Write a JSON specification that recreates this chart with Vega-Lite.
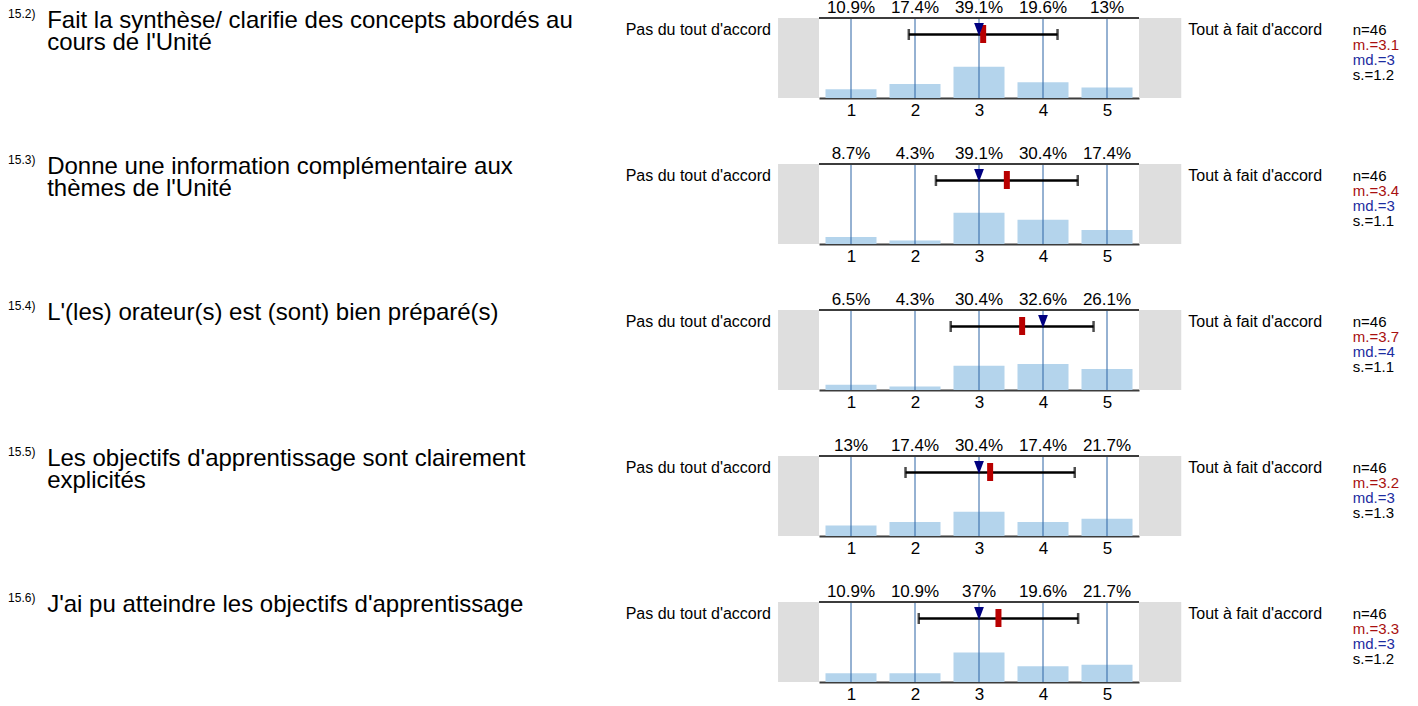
{
  "$schema": "https://vega.github.io/schema/vega-lite/v6.json",
  "background": "white",
  "padding": {"left": 8, "top": -1, "right": 5, "bottom": 4},
  "config": {
    "view": {"stroke": null},
    "font": "Liberation Sans",
    "text": {"font": "Liberation Sans"},
    "scale": {"continuousPadding": 0}
  },
  "datasets": {
    "dist": [
      {"q": "15.2", "value": 1, "pct": 0.109}, {"q": "15.2", "value": 2, "pct": 0.174}, {"q": "15.2", "value": 3, "pct": 0.391}, {"q": "15.2", "value": 4, "pct": 0.196}, {"q": "15.2", "value": 5, "pct": 0.13},
      {"q": "15.3", "value": 1, "pct": 0.087}, {"q": "15.3", "value": 2, "pct": 0.043}, {"q": "15.3", "value": 3, "pct": 0.391}, {"q": "15.3", "value": 4, "pct": 0.304}, {"q": "15.3", "value": 5, "pct": 0.174},
      {"q": "15.4", "value": 1, "pct": 0.065}, {"q": "15.4", "value": 2, "pct": 0.043}, {"q": "15.4", "value": 3, "pct": 0.304}, {"q": "15.4", "value": 4, "pct": 0.326}, {"q": "15.4", "value": 5, "pct": 0.261},
      {"q": "15.5", "value": 1, "pct": 0.13}, {"q": "15.5", "value": 2, "pct": 0.174}, {"q": "15.5", "value": 3, "pct": 0.304}, {"q": "15.5", "value": 4, "pct": 0.174}, {"q": "15.5", "value": 5, "pct": 0.217},
      {"q": "15.6", "value": 1, "pct": 0.109}, {"q": "15.6", "value": 2, "pct": 0.109}, {"q": "15.6", "value": 3, "pct": 0.37}, {"q": "15.6", "value": 4, "pct": 0.196}, {"q": "15.6", "value": 5, "pct": 0.217}
    ],
    "stats": [
      {"q": "15.2", "sup": "15.2)", "question": "Fait la synthèse/ clarifie des concepts abordés au\ncours de l'Unité", "n": 46, "mean": 3.065, "median": 3, "sd": 1.162},
      {"q": "15.3", "sup": "15.3)", "question": "Donne une information complémentaire aux\nthèmes de l'Unité", "n": 46, "mean": 3.435, "median": 3, "sd": 1.108},
      {"q": "15.4", "sup": "15.4)", "question": "L'(les) orateur(s) est (sont) bien préparé(s)", "n": 46, "mean": 3.674, "median": 4, "sd": 1.116},
      {"q": "15.5", "sup": "15.5)", "question": "Les objectifs d'apprentissage sont clairement\nexplicités", "n": 46, "mean": 3.174, "median": 3, "sd": 1.322},
      {"q": "15.6", "sup": "15.6)", "question": "J'ai pu atteindre les objectifs d'apprentissage", "n": 46, "mean": 3.304, "median": 3, "sd": 1.245}
    ]
  },
  "data": {"name": "dist"},
  "transform": [
    {"lookup": "q", "from": {"data": {"name": "stats"}, "key": "q", "fields": ["sup", "question", "n", "mean", "median", "sd"]}}
  ],
  "facet": {"row": {"field": "q", "type": "nominal", "header": null}},
  "spacing": {"row": 66},
  "bounds": "flush",
  "resolve": {"axis": {"x": "independent"}},
  "spec": {
    "width": 320,
    "height": 80,
    "layer": [
      {
        "transform": [{"filter": "datum.value == 1"}],
        "mark": {"type": "rect", "color": "#dedede", "clip": false},
        "encoding": {
          "x": {"datum": -0.14, "type": "quantitative", "scale": {"domain": [0.5, 5.5], "nice": false, "zero": false, "padding": 0}, "title": null},
          "x2": {"datum": 0.5},
          "y": {"datum": 0, "type": "quantitative", "scale": {"domain": [0, 1]}, "axis": null},
          "y2": {"datum": 1}
        }
      },
      {
        "transform": [{"filter": "datum.value == 1"}],
        "mark": {"type": "rect", "color": "#dedede", "clip": false},
        "encoding": {
          "x": {"datum": 5.5, "type": "quantitative", "scale": {"domain": [0.5, 5.5], "nice": false, "zero": false, "padding": 0}, "title": null},
          "x2": {"datum": 6.16},
          "y": {"datum": 0, "type": "quantitative", "scale": {"domain": [0, 1]}, "axis": null},
          "y2": {"datum": 1}
        }
      },
      {
        "mark": {"type": "bar", "color": "#b4d4ec", "width": 51, "clip": false},
        "encoding": {
          "x": {"field": "value", "type": "quantitative", "scale": {"domain": [0.5, 5.5], "nice": false, "zero": false, "padding": 0}, "title": null,
            "axis": {"values": [1, 2, 3, 4, 5], "format": "d", "grid": false, "ticks": false, "tickSize": 0, "domainColor": "#3c3c3c", "domainWidth": 2, "labelFontSize": 17, "labelColor": "black", "labelFont": "Liberation Sans", "labelPadding": 17, "labelBaseline": "alphabetic", "title": null}},
          "y": {"field": "pct", "type": "quantitative", "scale": {"domain": [0, 1]}, "axis": null}
        }
      },
      {
        "mark": {"type": "rule", "color": "#2c65a5", "strokeWidth": 1},
        "encoding": {
          "x": {"field": "value", "type": "quantitative", "scale": {"domain": [0.5, 5.5], "nice": false, "zero": false, "padding": 0}, "title": null},
          "y": {"datum": 0, "type": "quantitative", "scale": {"domain": [0, 1]}, "axis": null},
          "y2": {"datum": 1}
        }
      },
      {
        "transform": [{"filter": "datum.value == 1"}],
        "mark": {"type": "rule", "color": "#3c3c3c", "strokeWidth": 2},
        "encoding": {
          "x": {"datum": 0.5, "type": "quantitative", "scale": {"domain": [0.5, 5.5], "nice": false, "zero": false, "padding": 0}, "title": null},
          "x2": {"datum": 5.5},
          "y": {"datum": 1, "type": "quantitative", "scale": {"domain": [0, 1]}, "axis": null}
        }
      },
      {
        "transform": [{"filter": "datum.value == 1"}],
        "mark": {"type": "errorbar", "color": "black", "ticks": true, "size": 11, "thickness": 2.5, "clip": false},
        "encoding": {
          "x": {"field": "mean", "type": "quantitative", "scale": {"domain": [0.5, 5.5], "nice": false, "zero": false, "padding": 0}, "title": null},
          "xError": {"field": "sd"},
          "y": {"datum": 0.794, "type": "quantitative", "scale": {"domain": [0, 1]}, "axis": null}
        }
      },
      {
        "transform": [{"filter": "datum.value == 1"}],
        "mark": {"type": "tick", "color": "#b80000", "orient": "vertical", "size": 18, "thickness": 6, "opacity": 1},
        "encoding": {
          "x": {"field": "mean", "type": "quantitative", "scale": {"domain": [0.5, 5.5], "nice": false, "zero": false, "padding": 0}, "title": null},
          "y": {"datum": 0.8, "type": "quantitative", "scale": {"domain": [0, 1]}, "axis": null}
        }
      },
      {
        "transform": [{"filter": "datum.value == 1"}],
        "mark": {"type": "point", "shape": "M-0.75,-1L0.75,-1L0,1Z", "filled": true, "color": "#000080", "size": 169, "opacity": 1},
        "encoding": {
          "x": {"field": "median", "type": "quantitative", "scale": {"domain": [0.5, 5.5], "nice": false, "zero": false, "padding": 0}, "title": null},
          "y": {"datum": 0.856, "type": "quantitative", "scale": {"domain": [0, 1]}, "axis": null}
        }
      },
      {
        "mark": {"type": "text", "fontSize": 17, "color": "black", "baseline": "alphabetic", "dy": -5},
        "encoding": {
          "x": {"field": "value", "type": "quantitative", "scale": {"domain": [0.5, 5.5], "nice": false, "zero": false, "padding": 0}, "title": null},
          "y": {"datum": 1, "type": "quantitative", "scale": {"domain": [0, 1]}, "axis": null},
          "text": {"field": "pct", "type": "quantitative", "format": ".1~%"}
        }
      },
      {
        "transform": [{"filter": "datum.value == 1"}],
        "mark": {"type": "text", "fontSize": 16, "color": "black", "align": "right", "baseline": "alphabetic", "text": "Pas du tout d'accord"},
        "encoding": {
          "x": {"datum": -0.25, "type": "quantitative", "scale": {"domain": [0.5, 5.5], "nice": false, "zero": false, "padding": 0}, "title": null},
          "y": {"datum": 0.7875, "type": "quantitative", "scale": {"domain": [0, 1]}, "axis": null}
        }
      },
      {
        "transform": [{"filter": "datum.value == 1"}],
        "mark": {"type": "text", "fontSize": 16, "color": "black", "align": "left", "baseline": "alphabetic", "text": "Tout à fait d'accord"},
        "encoding": {
          "x": {"datum": 6.27, "type": "quantitative", "scale": {"domain": [0.5, 5.5], "nice": false, "zero": false, "padding": 0}, "title": null},
          "y": {"datum": 0.7875, "type": "quantitative", "scale": {"domain": [0, 1]}, "axis": null}
        }
      },
      {
        "transform": [{"filter": "datum.value == 1"}, {"calculate": "'n=' + datum.n", "as": "lbl"}],
        "mark": {"type": "text", "fontSize": 15, "color": "black", "align": "left", "baseline": "alphabetic"},
        "encoding": {
          "x": {"datum": 8.84, "type": "quantitative", "scale": {"domain": [0.5, 5.5], "nice": false, "zero": false, "padding": 0}, "title": null},
          "y": {"datum": 0.7875, "type": "quantitative", "scale": {"domain": [0, 1]}, "axis": null},
          "text": {"field": "lbl"}
        }
      },
      {
        "transform": [{"filter": "datum.value == 1"}, {"calculate": "'m.=' + format(datum.mean, '.1f')", "as": "lbl"}],
        "mark": {"type": "text", "fontSize": 15, "color": "#a81010", "align": "left", "baseline": "alphabetic", "dy": 15},
        "encoding": {
          "x": {"datum": 8.84, "type": "quantitative", "scale": {"domain": [0.5, 5.5], "nice": false, "zero": false, "padding": 0}, "title": null},
          "y": {"datum": 0.7875, "type": "quantitative", "scale": {"domain": [0, 1]}, "axis": null},
          "text": {"field": "lbl"}
        }
      },
      {
        "transform": [{"filter": "datum.value == 1"}, {"calculate": "'md.=' + datum.median", "as": "lbl"}],
        "mark": {"type": "text", "fontSize": 15, "color": "#1c2ca0", "align": "left", "baseline": "alphabetic", "dy": 30},
        "encoding": {
          "x": {"datum": 8.84, "type": "quantitative", "scale": {"domain": [0.5, 5.5], "nice": false, "zero": false, "padding": 0}, "title": null},
          "y": {"datum": 0.7875, "type": "quantitative", "scale": {"domain": [0, 1]}, "axis": null},
          "text": {"field": "lbl"}
        }
      },
      {
        "transform": [{"filter": "datum.value == 1"}, {"calculate": "'s.=' + format(datum.sd, '.1f')", "as": "lbl"}],
        "mark": {"type": "text", "fontSize": 15, "color": "black", "align": "left", "baseline": "alphabetic", "dy": 45},
        "encoding": {
          "x": {"datum": 8.84, "type": "quantitative", "scale": {"domain": [0.5, 5.5], "nice": false, "zero": false, "padding": 0}, "title": null},
          "y": {"datum": 0.7875, "type": "quantitative", "scale": {"domain": [0, 1]}, "axis": null},
          "text": {"field": "lbl"}
        }
      },
      {
        "transform": [{"filter": "datum.value == 1"}],
        "mark": {"type": "text", "fontSize": 24, "color": "black", "align": "left", "baseline": "alphabetic", "lineBreak": "\n", "lineHeight": 21.5},
        "encoding": {
          "x": {"datum": -11.56, "type": "quantitative", "scale": {"domain": [0.5, 5.5], "nice": false, "zero": false, "padding": 0}, "title": null},
          "y": {"datum": 0.869, "type": "quantitative", "scale": {"domain": [0, 1]}, "axis": null},
          "text": {"field": "question"}
        }
      },
      {
        "transform": [{"filter": "datum.value == 1"}],
        "mark": {"type": "text", "fontSize": 12, "color": "black", "align": "left", "baseline": "alphabetic"},
        "encoding": {
          "x": {"datum": -12.17, "type": "quantitative", "scale": {"domain": [0.5, 5.5], "nice": false, "zero": false, "padding": 0}, "title": null},
          "y": {"datum": 0.994, "type": "quantitative", "scale": {"domain": [0, 1]}, "axis": null},
          "text": {"field": "sup"}
        }
      }
    ]
  }
}
